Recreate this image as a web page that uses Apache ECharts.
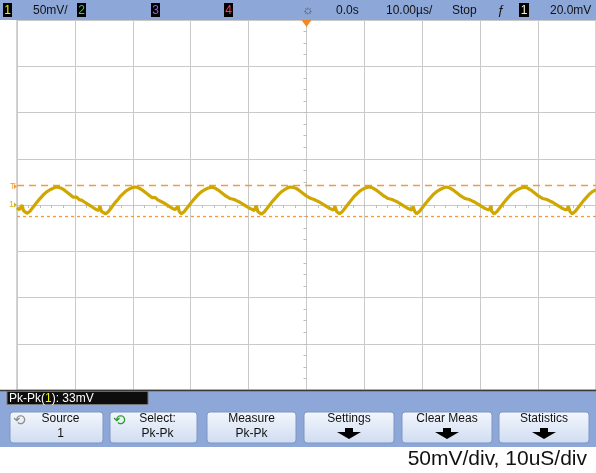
<!DOCTYPE html>
<html><head><meta charset="utf-8">
<script src="https://cdn.jsdelivr.net/npm/echarts@6/dist/echarts.min.js"></script>
<style>html,body{margin:0;padding:0;background:#fff}#c{width:596px;height:473px}</style>
</head><body><div id="c"></div>
<script>
// time in microseconds, trace in millivolts (50 mV/div, 10 us/div)
const timeUs = [
-50.0,-49.6,-49.3,-49.1,-48.9,-48.3,-47.8,-47.3,-46.8,-46.3,-45.8,-45.3,-44.8,-44.3,-43.8,-43.3,-42.8,-42.3,-41.8,-41.3,-40.8,-40.3,-40.0,-39.7,-39.3,-38.8,-38.3,-37.8,-37.3,-36.8,-36.3,-35.9,-35.7,-35.4,-34.7,
-34.2,-33.7,-33.2,-32.7,-32.2,-31.7,-31.2,-30.7,-30.2,-29.7,-29.2,-28.7,-28.2,-27.7,-27.2,-26.7,-26.4,-26.1,-25.7,-25.2,-24.7,-24.2,-23.7,-23.2,-22.7,-22.4,-22.2,-22.0,-21.6,
-21.1,-20.6,-20.1,-19.6,-19.1,-18.6,-18.1,-17.6,-17.1,-16.6,-16.1,-15.6,-15.1,-14.6,-14.1,-13.6,-13.2,-12.9,-12.5,-12.0,-11.5,-11.0,-10.5,-10.0,-9.5,-9.0,-8.7,-8.4,-7.8,
-7.3,-6.8,-6.3,-5.8,-5.3,-4.8,-4.3,-3.8,-3.3,-2.8,-2.3,-1.8,-1.3,-0.8,-0.3,0.2,0.6,0.9,1.3,1.8,2.3,2.8,3.3,3.8,4.3,4.7,4.9,5.2,5.7,
6.2,6.7,7.2,7.7,8.2,8.7,9.2,9.7,10.2,10.7,11.2,11.7,12.2,12.7,13.2,13.7,14.1,14.4,14.8,15.3,15.8,16.3,16.8,17.3,17.8,18.2,18.4,18.7,19.0,
19.5,20.0,20.5,21.0,21.5,22.0,22.5,23.0,23.5,24.0,24.5,25.0,25.5,26.0,26.5,27.0,27.4,27.7,28.1,28.6,29.1,29.6,30.1,30.6,31.1,31.6,31.8,32.0,32.4,
32.9,33.4,33.9,34.4,34.9,35.4,35.9,36.4,36.9,37.4,37.9,38.4,38.9,39.4,39.9,40.4,40.8,41.1,41.5,42.0,42.5,43.0,43.5,44.0,44.5,45.0,45.2,45.5,45.9,
46.4,46.9,47.4,47.9,48.4,48.9,49.4,50.0
];
const traceMv = [
-3,-5,-4,0,-6,-9,-7,-3,1,5,8.5,12,14.5,16.5,18,19.5,19,18,16,13.5,11,8.5,7,8.5,6,5,3,1,-1,-3,-5,-6,-1,-7,-9.5,
-7,-3,1.5,5,9,12,15,17,18.5,19.5,19,17.5,15.5,13,10.5,8,6.5,8,5.5,4,2.5,0.5,-1.5,-3.5,-5,-6,-1.5,-7,-9.5,
-7,-3,1,5,8.5,12,14.5,16.5,18,19,19,17.5,15.5,13,10.5,8.5,7,8.5,6,4.5,3,1,-1,-3,-4.5,-6,-0.5,-7,-10,
-7.5,-3.5,0.5,4.5,8,11.5,14.5,16.5,18.5,19.5,19,18,16,13.5,11,9,7.5,8.5,6,4.5,3,1,-1,-3,-4.5,-5.5,-1,-7,-9.5,
-7,-3,1,5,9,12,15,17,18.5,19.5,19,17.5,15.5,13,10.5,8.5,7,8.5,6,4.5,3,1,-1,-3,-4.5,-5.5,-1.5,-7,-9.5,
-7,-3,1,5,8.5,12,14.5,16.5,18,19.5,19,17.5,15.5,13,10.5,8.5,7,8.5,6,4.5,3,1,-1,-3,-4.5,-5.5,-1,-7,-9.5,
-7,-3,1,5,8.5,12,14.5,16.5,18,19,19,17.5,15.5,13,10.5,8.5,7,8.5,6,4.5,3,1,-1,-3,-4.5,-5.5,-1,-7,-9.5,
-7,-3,1,5,8.5,12,14.5,16.5
];
const cursorMv = [21.5, -12];     // Pk-Pk max / min markers
const triggerMv = 20;             // trigger level
const groundMv = 0;               // channel 1 ground reference
const topBarItems = ['50mV/', '0.0s', '10.00µs/', 'Stop', '20.0mV'];
const measureText = ['Pk-Pk(', '1', '): 33mV'];
const buttons = [['Source','1'],['Select:','Pk-Pk'],['Measure','Pk-Pk'],['Settings',''],['Clear Meas',''],['Statistics','']];
const caption = '50mV/div, 10uS/div';

const FONT = '"Liberation Sans", Arial, sans-serif';
const chart = echarts.init(document.getElementById('c'), null, {renderer:'canvas'});
const gridCol = '#c9c9c9';
const cursorCol = '#f39a3c';
chart.setOption({
  animation:false,
  backgroundColor:'#ffffff',
  grid:{left:17, top:20, width:580, height:370, show:true, borderColor:'#a8a8a8', borderWidth:1},
  xAxis:{type:'value', min:-50, max:50, interval:10,
    axisLabel:{show:false},
    axisLine:{show:true, onZero:true, lineStyle:{color:gridCol}},
    axisTick:{show:true, length:3, lineStyle:{color:'#bdbdbd'}},
    minorTick:{show:true, splitNumber:5, length:3, lineStyle:{color:'#bdbdbd'}},
    splitLine:{show:true, lineStyle:{color:gridCol, width:1}}},
  yAxis:{type:'value', min:-200, max:200, interval:50,
    axisLabel:{show:false},
    axisLine:{show:true, onZero:true, lineStyle:{color:gridCol}},
    axisTick:{show:true, length:3, lineStyle:{color:'#bdbdbd'}},
    minorTick:{show:true, splitNumber:4, length:3, lineStyle:{color:'#bdbdbd'}},
    splitLine:{show:true, lineStyle:{color:gridCol, width:1}}},
  series:[{
    type:'line', showSymbol:false, silent:true, z:3,
    data: timeUs.map((t,i)=>[t, traceMv[i]]),
    lineStyle:{color:'#cfa700', width:3.2},
    markLine:{silent:true, symbol:['none','none'], label:{show:false}, z:2,
      lineStyle:{color:cursorCol, width:1.3, opacity:1},
      emphasis:{disabled:true},
      data:[
        {yAxis:cursorMv[0], lineStyle:{type:[7,5], color:cursorCol, width:1.3, opacity:1}},
        {yAxis:cursorMv[1], lineStyle:{type:[3,3], color:cursorCol, width:1.3, opacity:1}}
      ]}
  }]
});

const yT = chart.convertToPixel({yAxisIndex:0}, triggerMv);
const yG = chart.convertToPixel({yAxisIndex:0}, groundMv);
const xC = chart.convertToPixel({xAxisIndex:0}, 0);

const barBlue = '#8ca7d8';
function T(x,y,s,fill,size,align,extra){
  return Object.assign({type:'text', z:20, style:{text:s, x:x, y:y, fill:fill||'#111', font:(size||12)+'px '+FONT, align:align||'left', verticalAlign:'middle'}}, extra||{});
}
function R(x,y,w,h,fill,stroke,r){
  return {type:'rect', z:15, shape:{x:x,y:y,width:w,height:h,r:r||0}, style:{fill:fill, stroke:stroke||null, lineWidth:1}};
}
const g = [];
// top status bar
g.push(R(0,0,596,20,barBlue));
g.push(R(3,3,9,14,'#000')); g.push(T(7.5,10.5,'1','#f2f200',12,'center'));
g.push(T(33,10.5,topBarItems[0],'#111',12,'left'));
g.push(R(77,3,9,14,'#000')); g.push(T(81.5,10.5,'2','#39d039',12,'center'));
g.push(R(151,3,9,14,'#000')); g.push(T(155.5,10.5,'3','#a54cff',12,'center'));
g.push(R(224,3,9,14,'#000')); g.push(T(228.5,10.5,'4','#ff3a6a',12,'center'));
g.push(T(308,10.5,'☼','#555',13,'center'));
g.push(T(336,10.5,topBarItems[1],'#111',12,'left'));
g.push(T(386,10.5,topBarItems[2],'#111',12,'left'));
g.push(T(452,10.5,topBarItems[3],'#111',12,'left'));
g.push(T(501,10.5,'ƒ','#111',13,'center'));
g.push(R(519,3,10,14,'#000')); g.push(T(524,10.5,'1','#f5f5c8',12,'center'));
g.push(T(550,10.5,topBarItems[4],'#111',12,'left'));
// trigger position marker (top centre)
g.push({type:'polygon', z:21, shape:{points:[[xC-5,20],[xC+5,20],[xC,27]]}, style:{fill:'#f08a20'}});
// left markers
g.push(T(10,yT,'T',cursorCol,9,'left')); g.push({type:'polygon', z:21, shape:{points:[[14,yT-2.5],[17,yT],[14,yT+2.5]]}, style:{fill:cursorCol}});
g.push(T(9,yG,'1','#d8b020',9,'left')); g.push({type:'polygon', z:21, shape:{points:[[14,yG-2.5],[17,yG],[14,yG+2.5]]}, style:{fill:'#d8b020'}});
// bottom soft-key panel
g.push(R(0,390,596,57,barBlue));
g.push({type:'line', z:16, shape:{x1:0,y1:390.5,x2:596,y2:390.5}, style:{stroke:'#3a3a3a', lineWidth:1.5}});
g.push(R(7,391.5,141,13,'#0d0d0d','#777'));
g.push({type:'text', z:20, style:{x:9, y:398.5, verticalAlign:'middle', align:'left', font:'12px '+FONT,
  text:'{w|'+measureText[0]+'}{y|'+measureText[1]+'}{w|'+measureText[2]+'}',
  rich:{w:{fill:'#ffffff', font:'12px '+FONT}, y:{fill:'#f2f200', font:'12px '+FONT}}}});
const btnX = [10,110,207,304,402,499];
const btnW = [93,87,89,90,90,90];
const grad = new echarts.graphic.LinearGradient(0,0,0,1,[{offset:0,color:'#f3f7fd'},{offset:1,color:'#cfdcf1'}]);
buttons.forEach((b,i)=>{
  const x = btnX[i], w = btnW[i];
  g.push({type:'rect', z:15, shape:{x:x,y:412,width:w,height:31,r:3}, style:{fill:grad, stroke:'#7f96c2', lineWidth:1}});
  let cx = x + w/2;
  if (i===0 || i===1) cx += 4;
  g.push(T(cx,419,b[0],'#111',12,'center'));
  if (b[1]) g.push(T(cx,434,b[1],'#111',12,'center'));
  else g.push({type:'polygon', z:20, shape:{points:[[cx-4,428],[cx+4,428],[cx+4,432],[cx+12,432],[cx,439],[cx-12,432],[cx-4,432]]}, style:{fill:'#000'}});
});
g.push(T(19,421,'⟲','#8d8d8d',15,'center',{}));
g.push(T(119,421,'⟲','#2c9a2c',15,'center',{}));
// caption
g.push(T(587,459,caption,'#111',21,'right'));
chart.setOption({graphic:g});
</script></body></html>
